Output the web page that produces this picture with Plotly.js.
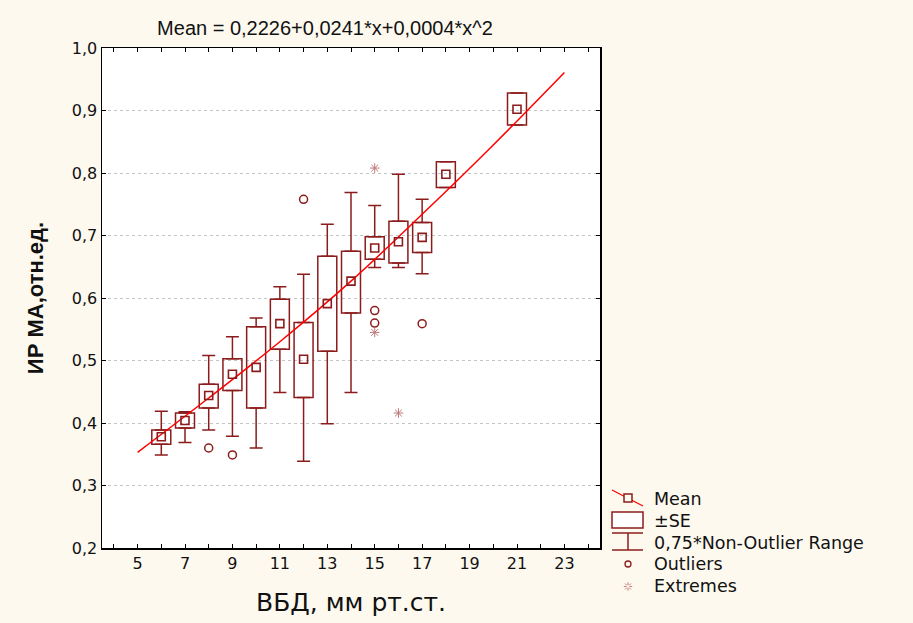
<!DOCTYPE html>
<html>
<head>
<meta charset="utf-8">
<script src="https://cdn.plot.ly/plotly-3.0.1.min.js"></script>
<style>html,body{margin:0;padding:0;background:#fdf9ef;}#chart{width:913px;height:623px;}</style>
</head>
<body>
<div id="chart"></div>
<script>
// ---- data ----
const groups      = [6, 7, 8, 9, 10, 11, 12, 13, 14, 15, 16, 17, 18, 21];
const means       = [0.378, 0.404, 0.444, 0.478, 0.489, 0.559, 0.502, 0.591, 0.627, 0.680, 0.690, 0.697, 0.798, 0.902];
const seLow       = [0.366, 0.392, 0.424, 0.452, 0.424, 0.518, 0.441, 0.515, 0.576, 0.662, 0.656, 0.673, 0.777, 0.877];
const seHigh      = [0.389, 0.416, 0.462, 0.503, 0.554, 0.598, 0.561, 0.667, 0.675, 0.698, 0.723, 0.721, 0.818, 0.928];
const rangeLow    = [0.349, 0.369, 0.389, 0.379, 0.360, 0.449, 0.339, 0.399, 0.449, 0.649, 0.649, 0.639, 0.777, 0.877];
const rangeHigh   = [0.419, 0.418, 0.508, 0.538, 0.568, 0.618, 0.638, 0.718, 0.769, 0.748, 0.798, 0.758, 0.818, 0.928];
const outlierX    = [8, 9, 12, 15, 15, 17];
const outlierY    = [0.360, 0.349, 0.758, 0.580, 0.560, 0.559];
const extremeX    = [15, 15, 16];
const extremeY    = [0.808, 0.545, 0.416];
const fitX        = [5, 8, 11, 14, 17, 20, 23];
const fitY        = [0.353, 0.440, 0.530, 0.627, 0.734, 0.845, 0.961];
const xTickVals   = [5, 7, 9, 11, 13, 15, 17, 19, 21, 23];
const titleText   = 'Mean = 0,2226+0,0241*x+0,0004*x^2';
const xTitle      = 'ВБД, мм рт.ст.';
const yTitle      = 'ИР МА,отн.ед.';
const legendItems = ['Mean', '±SE', '0,75*Non-Outlier Range', 'Outliers', 'Extremes'];

// ---- styling ----
const DARK = '#8c1c1c';
const RED = '#ff0000';
const BG = '#fdf9ef';
const FONT = 'Liberation Sans, Arial, sans-serif';
const WIDE = 'DejaVu Sans, Liberation Sans, sans-serif';

// derived whisker lengths (NaN where there is no whisker)
const upLen = rangeHigh.map((v, i) => (v - seHigh[i] > 0.0005 ? v - seHigh[i] : NaN));
const dnLen = rangeLow.map((v, i) => (seLow[i] - v > 0.0005 ? seLow[i] - v : NaN));
const seSpan = seHigh.map((v, i) => v - seLow[i]);

const traces = [
  { // upper whiskers
    type: 'scatter', mode: 'markers', x: groups, y: seHigh,
    marker: {size: 1, color: 'rgba(0,0,0,0)'},
    error_y: {type: 'data', symmetric: false, array: upLen, arrayminus: upLen.map(() => 0),
      color: DARK, thickness: 1.5, width: 6.5},
    hoverinfo: 'skip', showlegend: false
  },
  { // lower whiskers
    type: 'scatter', mode: 'markers', x: groups, y: seLow,
    marker: {size: 1, color: 'rgba(0,0,0,0)'},
    error_y: {type: 'data', symmetric: false, array: dnLen.map(() => 0), arrayminus: dnLen,
      color: DARK, thickness: 1.5, width: 6.5},
    hoverinfo: 'skip', showlegend: false
  },
  { // ±SE boxes
    type: 'bar', x: groups, y: seSpan, base: seLow, width: 0.8,
    marker: {color: 'rgba(255,255,255,0)', line: {color: DARK, width: 1.5}},
    hoverinfo: 'skip', showlegend: false
  },
  {
    type: 'scatter', mode: 'lines', x: fitX, y: fitY, line: {color: RED, width: 1.5, shape: 'spline'},
    hoverinfo: 'skip', showlegend: false
  },
  {
    type: 'scatter', mode: 'markers', x: groups, y: means,
    marker: {symbol: 'square', size: 8, color: 'rgba(255,255,255,0)', line: {color: DARK, width: 1.6}},
    hoverinfo: 'skip', showlegend: false
  },
  {
    type: 'scatter', mode: 'markers', x: outlierX, y: outlierY,
    marker: {symbol: 'circle-open', size: 8, color: DARK, line: {width: 1.5}},
    hoverinfo: 'skip', showlegend: false
  },
  {
    type: 'scatter', mode: 'markers', x: extremeX, y: extremeY,
    marker: {symbol: 'asterisk-open', size: 8, color: '#c07a7a', line: {width: 1, color: '#c07a7a'}},
    hoverinfo: 'skip', showlegend: false
  }
];

// ---- custom legend (paper coordinates from pixel positions) ----
const L = 102, R = 600, T = 48, B = 548;
const px = x => (x - L) / (R - L);
const py = y => (B - y) / (B - T);
const shapes = [];
function seg(x0, y0, x1, y1, color, w) {
  shapes.push({type: 'line', xref: 'paper', yref: 'paper', x0: px(x0), y0: py(y0), x1: px(x1), y1: py(y1),
    line: {color: color, width: w || 1.5}});
}
function rect(x0, y0, x1, y1, color, fill) {
  shapes.push({type: 'rect', xref: 'paper', yref: 'paper', x0: px(x0), y0: py(y0), x1: px(x1), y1: py(y1),
    line: {color: color, width: 1.5}, fillcolor: fill || 'rgba(0,0,0,0)'});
}
// Mean
seg(612, 490, 643, 506, RED, 1.3);
rect(624, 494, 632, 502, DARK, BG);
// SE
rect(612, 512, 643, 528, DARK, '#ffffff');
// whisker
seg(612, 533, 643, 533, DARK);
seg(628, 533, 628, 550, DARK);
seg(612, 550, 643, 550, DARK);
// outlier
shapes.push({type: 'circle', xref: 'paper', yref: 'paper', x0: px(625), y0: py(561), x1: px(631), y1: py(567),
  line: {color: DARK, width: 1.3}});
// extremes glyph
const ec = [628, 586.5];
[[1,0],[0,1],[0.7,0.7],[0.7,-0.7]].forEach(d => {
  seg(ec[0] + d[0]*1.5, ec[1] + d[1]*1.5, ec[0] + d[0]*4.2, ec[1] + d[1]*4.2, '#c07a7a', 1);
  seg(ec[0] - d[0]*1.5, ec[1] - d[1]*1.5, ec[0] - d[0]*4.2, ec[1] - d[1]*4.2, '#c07a7a', 1);
});

const legendY = [499, 521, 543, 564, 586];
const annotations = legendItems.map((t, i) => ({
  text: t, xref: 'paper', yref: 'paper', x: px(652), y: py(legendY[i]),
  xanchor: 'left', yanchor: 'middle', showarrow: false,
  font: {family: WIDE, size: 17.5, color: '#111'}
}));

const layout = {
  width: 913, height: 623,
  paper_bgcolor: BG, plot_bgcolor: '#ffffff',
  margin: {l: L, r: 913 - R, t: T, b: 623 - B, pad: 0},
  separators: ', ',
  barmode: 'overlay',
  font: {family: FONT, color: '#111'},
  title: {text: titleText, x: 325 / 913, xanchor: 'center', y: 1 - 28 / 623, yanchor: 'middle',
    font: {family: FONT, size: 20, color: '#111'}},
  showlegend: false,
  xaxis: {
    range: [3.5, 24.5], tickmode: 'array', tickvals: xTickVals,
    ticks: 'inside', ticklen: 4, tickwidth: 1, tickcolor: '#000',
    minor: {tickmode: 'linear', tick0: 0, dtick: 1, ticks: 'inside', ticklen: 4, tickcolor: '#000', showgrid: false},
    showline: true, linecolor: '#000', linewidth: 1.5, mirror: 'ticks',
    showgrid: false, zeroline: false,
    tickfont: {family: WIDE, size: 16, color: '#111'},
    title: {text: xTitle, font: {family: WIDE, size: 25, color: '#111'}, standoff: 22}
  },
  yaxis: {
    range: [0.2, 1.0001], tickmode: 'linear', tick0: 0.2, dtick: 0.1, tickformat: '.1f',
    ticks: 'inside', ticklen: 4, tickcolor: '#000',
    showline: true, linecolor: '#000', linewidth: 1.5, mirror: 'ticks',
    showgrid: true, gridcolor: '#c4c4c4', griddash: 'dot', gridwidth: 1, zeroline: false,
    tickfont: {family: WIDE, size: 16, color: '#111'},
    title: {text: yTitle, font: {family: FONT, size: 22, color: '#111', weight: 'bold'}, standoff: 22}
  },
  shapes: shapes,
  annotations: annotations
};

Plotly.newPlot('chart', traces, layout, {staticPlot: true, displayModeBar: false});
</script>
</body>
</html>
